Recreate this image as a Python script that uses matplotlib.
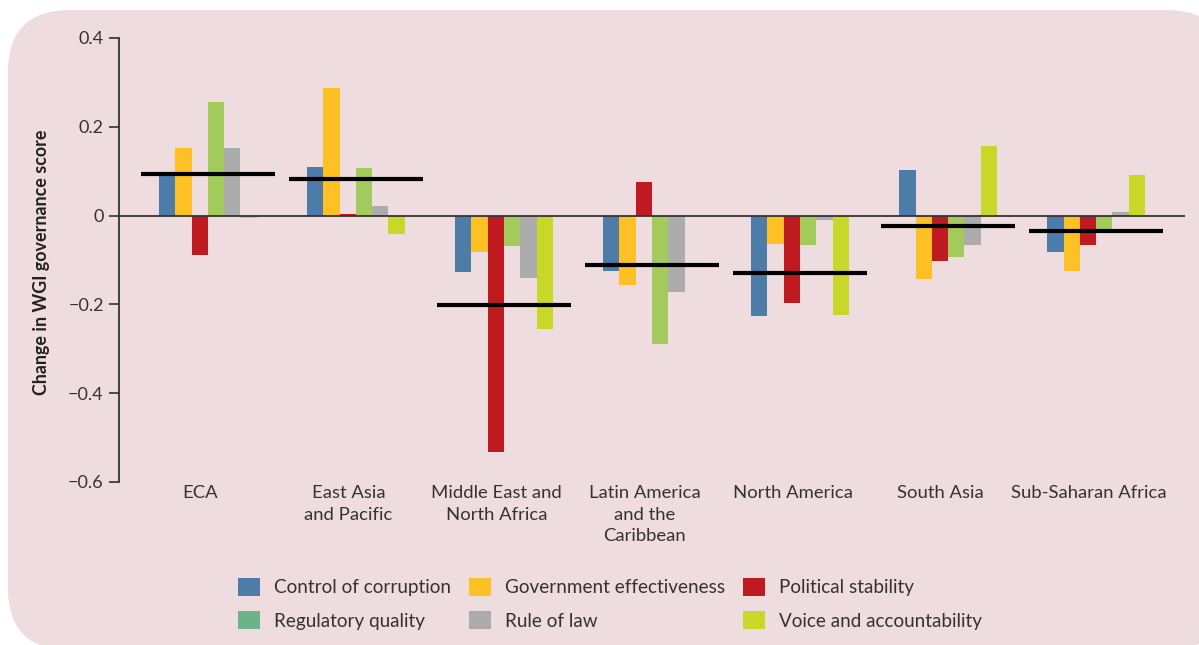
import numpy as np
import matplotlib
matplotlib.use("Agg")
import matplotlib.pyplot as plt
from matplotlib.patches import FancyBboxPatch, Patch

plt.rcParams["font.family"] = ["Lato", "DejaVu Sans"]

regions = ["ECA", "East Asia\nand Pacific", "Middle East and\nNorth Africa",
           "Latin America\nand the\nCaribbean", "North America", "South Asia",
           "Sub-Saharan Africa"]

control = [0.091, 0.109, -0.127, -0.125, -0.227, 0.103, -0.082]
govt = [0.152, 0.287, -0.082, -0.157, -0.064, -0.143, -0.125]
political = [-0.089, 0.003, -0.533, 0.075, -0.197, -0.103, -0.067]
regulatory = [0.256, 0.107, -0.069, -0.290, -0.067, -0.094, -0.033]
rule = [0.152, 0.021, -0.141, -0.172, -0.010, -0.067, 0.008]
voice = [-0.005, -0.041, -0.256, 0.0, -0.224, 0.157, 0.091]
average = [0.093, 0.082, -0.202, -0.112, -0.130, -0.024, -0.034]

names = ["Control of corruption", "Government effectiveness", "Political stability",
         "Regulatory quality", "Rule of law", "Voice and accountability"]
bar_colors = ["#4e7ca8", "#fdc125", "#be1a20", "#a2cb5c", "#abacac", "#c8d829"]
legend_colors = ["#4e7ca8", "#fdc125", "#be1a20", "#6db38a", "#abacac", "#c8d829"]

bg = "#eedcdf"
fig = plt.figure(figsize=(11.99, 6.45), dpi=100, facecolor="white")
box = FancyBboxPatch((0.08, -0.05), 12.2, 6.40, boxstyle="round,pad=0,rounding_size=0.62",
                     transform=fig.dpi_scale_trans, facecolor=bg, edgecolor="none", zorder=-10)
fig.patches.append(box)

ax = fig.add_axes([119 / 1199, 1 - 482 / 645, (1185 - 119) / 1199, (482 - 38) / 645])
ax.set_facecolor("none")

x = np.arange(len(regions))
w = 0.11
series = [control, govt, political, regulatory, rule, voice]
for k, vals in enumerate(series):
    ax.bar(x + (k - 2.5) * w, vals, width=w, color=bar_colors[k], zorder=2)

ax.hlines(average, x - 0.453, x + 0.453, color="black", linewidth=3, zorder=4)
ax.axhline(0, color="#333333", linewidth=1.3, zorder=3)

ax.set_xlim(-0.6, 6.6)
ax.set_ylim(-0.6, 0.4)
ax.set_yticks([-0.6, -0.4, -0.2, 0, 0.2, 0.4])
ax.set_yticklabels(["\u22120.6", "\u22120.4", "\u22120.2", "0", "0.2", "0.4"])
ax.set_xticks(x - 0.05)
ax.set_xticklabels(regions, fontsize=13.3, color="#333333", linespacing=1.45)
ax.tick_params(axis="x", length=0, pad=2)
ax.tick_params(axis="y", length=7, width=1.2, color="#333333", labelsize=13,
               labelcolor="#333333", pad=4)
for s in ["top", "right", "bottom"]:
    ax.spines[s].set_visible(False)
ax.spines["left"].set_color("#333333")
ax.spines["left"].set_linewidth(1.3)

fig.text(42 / 1199, 1 - 262 / 645, "Change in WGI governance score", rotation=90,
         fontsize=12.9, fontweight="bold", color="#222222", ha="center", va="center")

# legend fills column by column, so reorder to get the rows right
order = [0, 3, 1, 4, 2, 5]
handles = [Patch(facecolor=legend_colors[i], edgecolor="none") for i in order]
labels = [names[i] for i in order]
fig.legend(handles, labels, ncol=3, loc="upper left", bbox_to_anchor=(221 / 1199, 1 - 561 / 645),
           frameon=False, fontsize=13.6, handlelength=1.15, handleheight=1.1,
           handletextpad=0.75, columnspacing=0.95, labelspacing=0.78, labelcolor="#333333")

fig.savefig("out.png", dpi=100, facecolor="white")
